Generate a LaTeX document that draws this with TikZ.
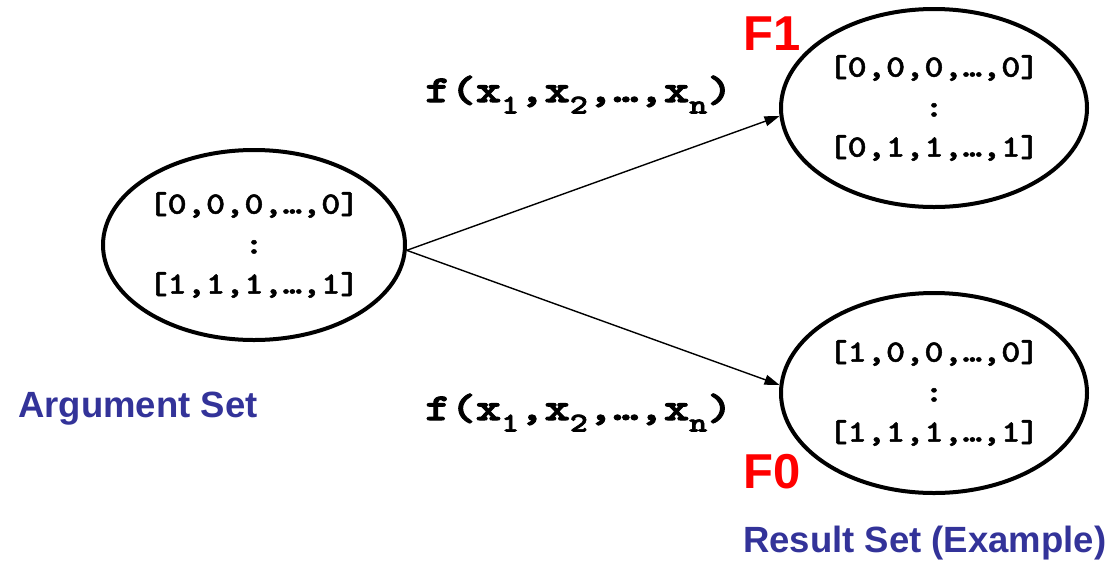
\documentclass[tikz,border=0pt]{standalone}
\usepackage{fontspec}
\setmainfont{Liberation Sans}
\setsansfont{Liberation Sans}
\newfontfamily\courb{lmmonolt10-bold.otf}[FakeStretch=1.18,FakeBold=1.6]
\newfontfamily\courl{lmmonolt10-bold.otf}[FakeStretch=1.27,FakeBold=2.6]
\usetikzlibrary{shapes.geometric,arrows.meta}
\definecolor{setblue}{HTML}{333399}
\definecolor{fred}{HTML}{FF0000}
\newcommand{\xsub}[1]{\raisebox{-0.3em}{\fontsize{27}{27}\selectfont #1}}
\begin{document}
\begin{tikzpicture}[x=1pt,y=-1pt,
  setell/.style={draw,ellipse,line width=4pt,inner sep=0pt,minimum width=#1,minimum height=198pt,
    align=center,font=\fontsize{31}{40}\selectfont\courb},
  conn/.style={line width=1.4pt,-{Triangle[length=15pt,width=10pt]}},
  flabel/.style={font=\fontsize{38}{38}\selectfont\courl,inner sep=0pt,anchor=base west},
  fname/.style={text=fred,font=\fontsize{49}{49}\selectfont\sffamily\bfseries,inner sep=0pt,anchor=base west},
  setname/.style={text=setblue,font=\fontsize{36.5}{36.5}\selectfont\sffamily\bfseries,inner sep=0pt,anchor=base west}]
\useasboundingbox (0,0) rectangle (1118,563);
\node[setell=302pt,minimum height=190pt] (A) at (254,245) {{[}0,0,0,…,0{]}\\{:}\\{[}1,1,1,…,1{]}};
\node[setell=306pt] (B) at (934,108) {{[}0,0,0,…,0{]}\\{:}\\{[}0,1,1,…,1{]}};
\node[setell=306pt,minimum height=200pt] (C) at (934,393) {{[}1,0,0,…,0{]}\\{:}\\{[}1,1,1,…,1{]}};
\draw[conn] (A.-2) -- (B.183);
\draw[conn] (A.-2) -- (C.177);
\node[flabel] (l1) at (425,102) {f(x\xsub{1},x\xsub{2},…,x\xsub{n})};
\node[flabel] (l2) at (425,420) {f(x\xsub{1},x\xsub{2},…,x\xsub{n})};
\node[fname] (F1) at (743,50) {F1};
\node[fname] (F0) at (743,488) {F0};
\node[setname] (as) at (18,417) {Argument Set};
\node[setname] (rs) at (743,552) {Result Set (Example)};
\end{tikzpicture}
\end{document}
